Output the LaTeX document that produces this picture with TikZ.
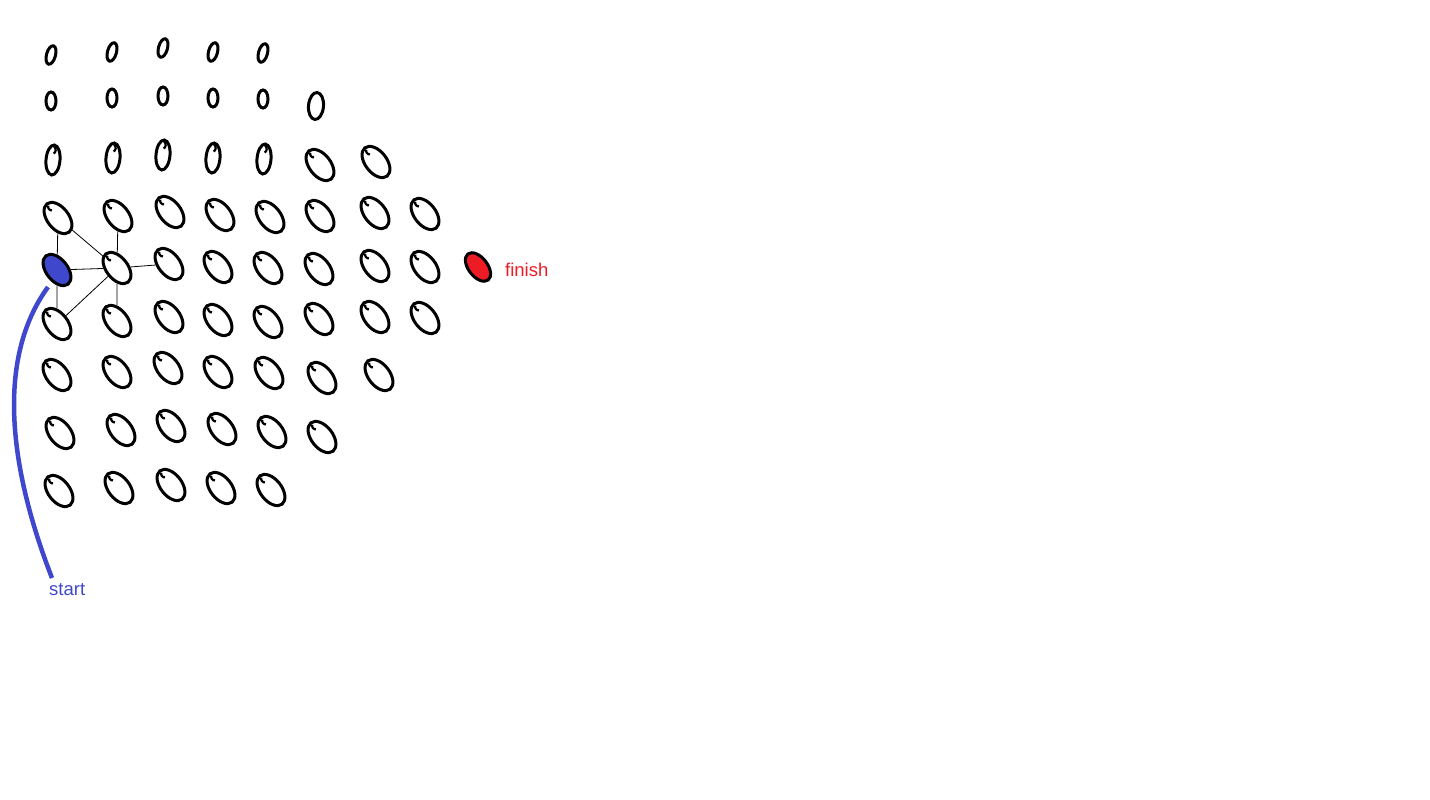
\documentclass[tikz,border=0pt]{standalone}
\usepackage{fontspec}
\setmainfont{Liberation Sans}
\usetikzlibrary{shapes.geometric,calc}

\definecolor{paintblue}{RGB}{63,72,204}
\definecolor{paintred}{RGB}{237,28,36}

\tikzset{
  egg/.style={draw=black, line width=3pt, ellipse, inner sep=0pt,
    minimum width=36pt, minimum height=21.5pt, rotate=-52},
  seed/.style={draw=black, line width=3pt, ellipse, inner sep=0pt,
    minimum width=9pt, minimum height=19pt, rotate=-15},
  bean/.style={draw=black, line width=3pt, ellipse, inner sep=0pt,
    minimum width=10pt, minimum height=18pt},
  pod/.style={draw=black, line width=3pt, ellipse, inner sep=0pt,
    minimum width=14pt, minimum height=30pt, rotate=-5},
  curl/.style={line width=2.2pt},
  link/.style={black, line width=0.8pt},
  tag/.style={font=\fontsize{18.5}{20}\selectfont, inner sep=0pt}
}

\begin{document}
\begin{tikzpicture}[x=1pt, y=-1pt]
\useasboundingbox (0,0) rectangle (1430,800);

% top rows, small upright marks
\foreach \x/\y [count=\c] in {51/55,112/52,163/48,213/52,263/53}
  \node[seed] (r1c\c) at (\x,\y) {};
\foreach \x/\y [count=\c] in {51/101,112/98,163/96,213/98,263/99}
  \node[bean] (r2c\c) at (\x,\y) {};
\node[pod, minimum width=15pt, minimum height=27pt] (r2c6) at (316,106) {};
\foreach \x/\y [count=\c] in {53/160,113/158,163/155,213/158,264/159} {
  \node[pod] (r3c\c) at (\x,\y) {};
  \draw[curl] ($(r3c\c.north)!0.1!(r3c\c.south)$) to[bend left=70] ($(r3c\c.north)!0.3!(r3c\c.south)$);
}

% tilted eggs
\foreach \name/\x/\y in {r3c6/320/165,r3c7/376/162,
    r4c1/58/218,r4c2/118/216,r4c3/170/212,r4c4/220/215,r4c5/270/217,r4c6/320/216,r4c7/375/213,r4c8/425/214,
    r5c2/117/268,r5c3/169/264,r5c4/218/267,r5c5/268/268,r5c6/319/269,r5c7/375/266,r5c8/425/267,
    r6c1/57/324,r6c2/117/321,r6c3/169/317,r6c4/218/320,r6c5/268/322,r6c6/319/319,r6c7/375/317,r6c8/425/318,
    r7c1/57/375,r7c2/117/372,r7c3/168/368,r7c4/218/372,r7c5/269/373,r7c6/322/378,r7c7/379/375,
    r8c1/60/433,r8c2/121/430,r8c3/171/426,r8c4/222/429,r8c5/272/432,r8c6/322/437,
    r9c1/59/491,r9c2/119/488,r9c3/171/485,r9c4/221/488,r9c5/271/490} {
  \node[egg] (\name) at (\x,\y) {};
  \draw[curl] ($(\name.west)!0.1!(\name.east)$) to[bend right=70] ($(\name.west)!0.25!(\name.east)$);
}

% start and goal
\node[egg, fill=paintblue] (home) at (57,270) {};
\node[egg, fill=paintred, minimum width=33pt, minimum height=19pt] (goal) at (478,267) {};
\node[tag, text=paintred, anchor=west] (finish) at (505,270) {finish};
\node[tag, text=paintblue, anchor=north west] (start) at (49,583) {start};

% thin links
\draw[link] (r4c1) -- (home);
\draw[link] (home) -- (r6c1);
\draw[link] (r4c1) -- (r5c2);
\draw[link] (home) -- (r5c2);
\draw[link] (r6c1) -- (r5c2);
\draw[link] (r5c2) -- (r4c2);
\draw[link] (r5c2) -- (r6c2);
\draw[link] (r5c2) -- (r5c3);

% blue line down to the label
\draw[paintblue, line width=4.5pt] ([shift={(-9,17)}]home.center)
  .. controls (-5,360) and (10,470) .. ([shift={(3,-5)}]start.north west);
\end{tikzpicture}
\end{document}
